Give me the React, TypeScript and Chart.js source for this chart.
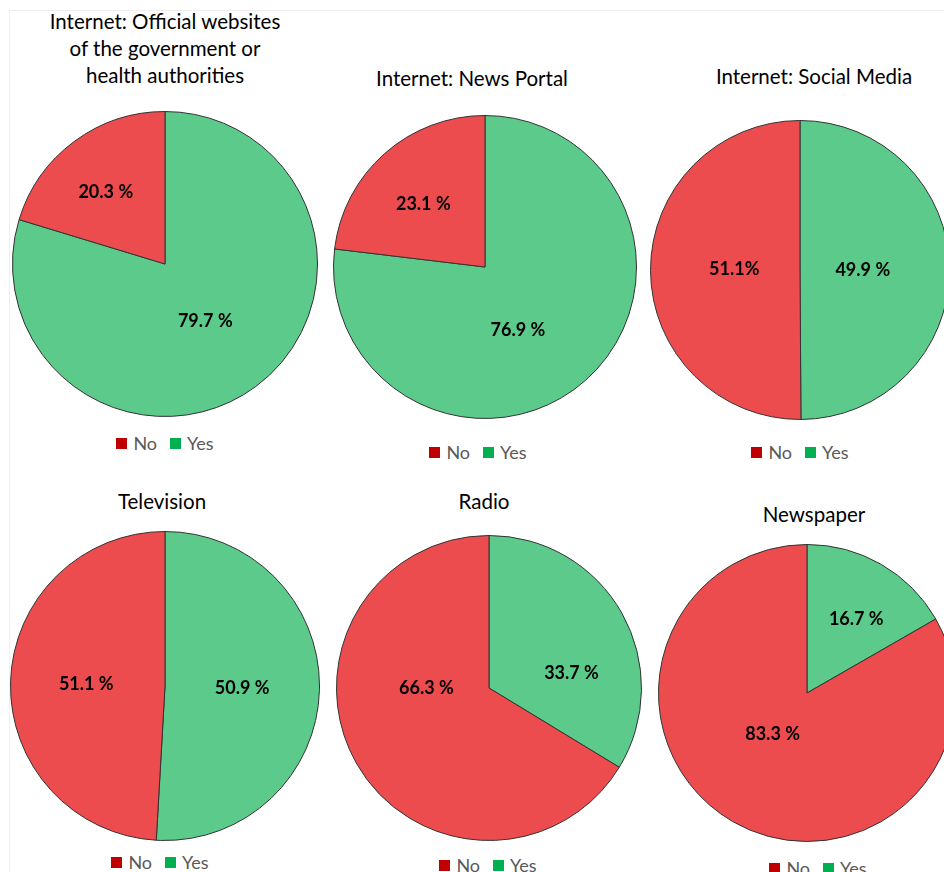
import React, { useEffect, useRef } from "react";
import { Chart, registerables } from "chart.js";

Chart.register(...registerables);

// ---------- data ----------
const titles: string[][] = [
  ["Internet: Official websites", "of the government or", "health authorities"],
  ["Internet: News Portal"],
  ["Internet: Social Media"],
  ["Television"],
  ["Radio"],
  ["Newspaper"],
];
const categories = ["No", "Yes"];
// slice sizes
const noValues = [20.3, 23.1, 50.1, 49.1, 66.3, 83.3];
const yesValues = [79.7, 76.9, 49.9, 50.9, 33.7, 16.7];
// printed labels as they appear in the picture
const noLabels = ["20.3 %", "23.1 %", "51.1%", "51.1 %", "66.3 %", "83.3 %"];
const yesLabels = ["79.7 %", "76.9 %", "49.9 %", "50.9 %", "33.7 %", "16.7 %"];

// ---------- styles / layout ----------
const SLICE_COLORS = { No: "#ED4C4E", Yes: "#5CCA8A" };
const LEGEND_COLORS = { No: "#C00000", Yes: "#00B050" };
const FONT = "Lato, 'Open Sans', sans-serif";

type Panel = {
  cx: number; cy: number; r: number;
  tx: number; ty: number; // centre x of title, centre y of last title line
  lx: number; ly: number; // legend centre
  frac: [number, number]; // label distance fraction [yes, no]
  shift: [number, number]; // label angle shift in degrees [yes, no]
};

const panels: Panel[] = [
  { cx: 165, cy: 264, r: 152, tx: 165, ty: 75, lx: 165, ly: 443, frac: [0.46, 0.61], shift: [1.5, -3] },
  { cx: 485, cy: 267, r: 151, tx: 472, ty: 78, lx: 478, ly: 452, frac: [0.47, 0.58], shift: [14, -3] },
  { cx: 800, cy: 270, r: 149, tx: 814, ty: 76, lx: 800, ly: 452, frac: [0.42, 0.44], shift: [0, 1] },
  { cx: 165, cy: 686, r: 154, tx: 162, ty: 501, lx: 160, ly: 862, frac: [0.5, 0.51], shift: [0, 0] },
  { cx: 489, cy: 688, r: 152, tx: 484, ty: 501, lx: 488, ly: 865, frac: [0.55, 0.41], shift: [19, 29] },
  { cx: 807, cy: 693, r: 148, tx: 814, ty: 514, lx: 818, ly: 868, frac: [0.6, 0.36], shift: [3.5, 10] },
];

const TITLE_LINE = 27;

function PiePanel({ idx }: { idx: number }) {
  const ref = useRef<HTMLCanvasElement | null>(null);
  const p = panels[idx];
  const S = p.r * 2 + 2;

  useEffect(() => {
    if (!ref.current) return;
    const texts = [yesLabels[idx], noLabels[idx]];
    const labelPlugin = {
      id: "sliceLabels" + idx,
      afterDatasetsDraw(chart: any) {
        const ctx = chart.ctx;
        const meta = chart.getDatasetMeta(0);
        meta.data.forEach((arc: any, i: number) => {
          const { x, y, startAngle, endAngle, outerRadius } = arc.getProps(
            ["x", "y", "startAngle", "endAngle", "outerRadius"],
            true
          );
          const mid = (startAngle + endAngle) / 2 + (p.shift[i] * Math.PI) / 180;
          const d = outerRadius * p.frac[i];
          ctx.save();
          ctx.font = `bold 18px ${FONT}`;
          ctx.fillStyle = "#000";
          ctx.textAlign = "center";
          ctx.textBaseline = "middle";
          ctx.fillText(texts[i], x + Math.cos(mid) * d, y + Math.sin(mid) * d);
          ctx.restore();
        });
      },
    };
    const chart = new Chart(ref.current, {
      type: "pie",
      data: {
        labels: [categories[1], categories[0]],
        datasets: [
          {
            data: [yesValues[idx], noValues[idx]],
            backgroundColor: [SLICE_COLORS.Yes, SLICE_COLORS.No],
            borderColor: "#333333",
            borderWidth: 1,
          },
        ],
      },
      options: {
        animation: false,
        responsive: true,
        maintainAspectRatio: false,
        layout: { padding: 0 },
        plugins: {
          legend: { display: false },
          title: { display: false },
          tooltip: { enabled: false },
        },
      },
      plugins: [labelPlugin],
    });
    return () => chart.destroy();
  }, [idx]);

  const lines = titles[idx];
  const titleTop = p.ty - TITLE_LINE / 2 - (lines.length - 1) * TITLE_LINE;

  return (
    <>
      <div
        style={{
          position: "absolute",
          left: p.tx - 200,
          width: 400,
          top: titleTop,
          textAlign: "center",
          fontFamily: FONT,
          fontSize: 20.5,
          lineHeight: TITLE_LINE + "px",
          color: "#000",
          whiteSpace: "nowrap",
        }}
      >
        {lines.map((l, i) => (
          <div key={i}>{l}</div>
        ))}
      </div>
      <div
        style={{
          position: "absolute",
          left: p.cx - S / 2,
          top: p.cy - S / 2,
          width: S,
          height: S,
        }}
      >
        <canvas ref={ref} />
      </div>
      <div
        style={{
          position: "absolute",
          left: p.lx - 100,
          width: 200,
          top: p.ly - 11,
          height: 22,
          display: "flex",
          justifyContent: "center",
          alignItems: "center",
          fontFamily: FONT,
          fontSize: 18,
          color: "#595959",
        }}
      >
        {categories.map((c, i) => (
          <div key={c} style={{ display: "flex", alignItems: "center", marginLeft: i ? 13 : 0 }}>
            <span
              style={{
                display: "inline-block",
                width: 11,
                height: 11,
                background: LEGEND_COLORS[c as "No" | "Yes"],
                marginRight: 6,
              }}
            />
            <span>{c}</span>
          </div>
        ))}
      </div>
    </>
  );
}

export default function App() {
  return (
    <div
      style={{
        position: "absolute",
        left: 0,
        top: 0,
        width: 944,
        height: 872,
        overflow: "hidden",
        background: "#fff",
      }}
    >
      <div
        style={{
          position: "absolute",
          left: 9,
          top: 10,
          width: 940,
          height: 870,
          borderTop: "1px solid #f3eded",
          borderLeft: "1px solid #f3eded",
        }}
      />
      {panels.map((_, i) => (
        <PiePanel key={i} idx={i} />
      ))}
    </div>
  );
}
